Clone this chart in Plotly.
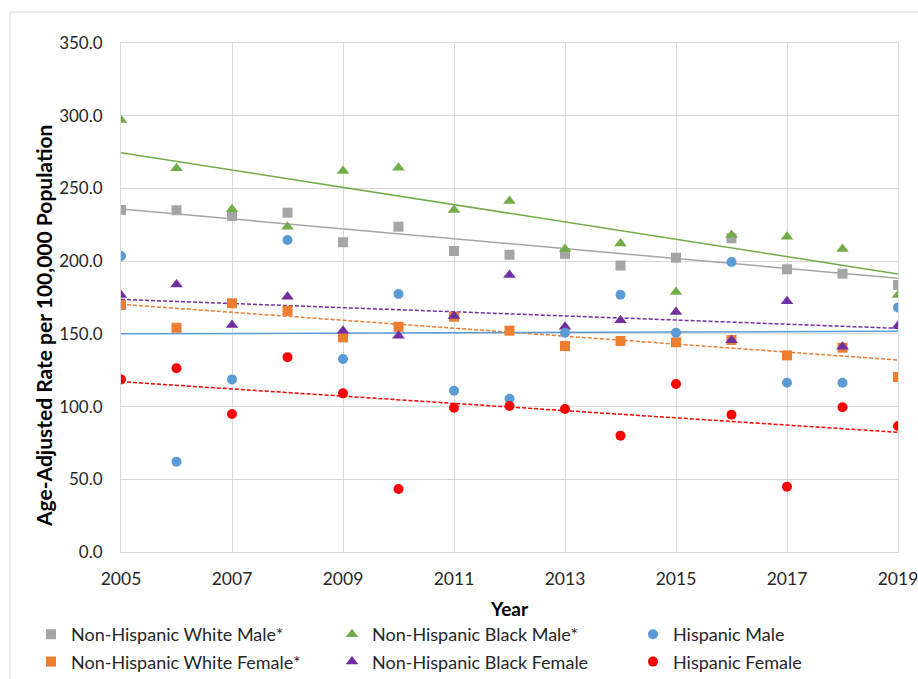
import plotly.graph_objects as go

years = list(range(2005, 2020))

series_names = [
    "Non-Hispanic White Male*",
    "Non-Hispanic White Female*",
    "Non-Hispanic Black Male*",
    "Non-Hispanic Black Female",
    "Hispanic Male",
    "Hispanic Female",
]

nhw_male = [235.2, 235.0, 231.0, 233.3, 213.0, 223.7, 207.0, 204.4, 205.0, 197.0, 202.4, 215.7, 194.4, 191.4, 183.6]
nhw_female = [169.8, 154.2, 171.0, 165.9, 147.6, 154.9, 161.8, 152.2, 141.6, 145.1, 144.2, 145.8, 135.2, 140.5, 120.3]
nhb_male = [297.0, 263.8, 235.6, 223.7, 262.0, 264.3, 235.2, 241.4, 208.3, 212.2, 178.8, 218.0, 216.8, 208.3, 176.7]
nhb_female = [176.7, 184.0, 156.1, 175.5, 152.2, 148.7, 162.3, 190.5, 154.9, 159.3, 165.0, 145.6, 172.4, 141.2, 155.6]
hisp_male = [203.5, 62.1, 118.7, 214.5, 132.7, 177.4, 110.9, 105.4, 150.8, 176.9, 150.8, 199.4, 116.4, 116.4, 168.2]
hisp_female = [118.7, 126.3, 94.9, 133.9, 109.1, 43.3, 99.2, 100.4, 98.3, 80.0, 115.5, 94.4, 44.9, 99.5, 86.6]

# linear trend line end values (2005, 2019)
trend_years = [2005, 2019]
trend_nhw_male = [235.8, 188.2]
trend_nhw_female = [170.3, 132.0]
trend_nhb_male = [274.6, 191.2]
trend_nhb_female = [173.7, 153.8]
trend_hisp_male = [150.0, 151.8]
trend_hisp_female = [117.1, 82.3]

y_tick_vals = [0, 50, 100, 150, 200, 250, 300, 350]
x_tick_vals = [2005, 2007, 2009, 2011, 2013, 2015, 2017, 2019]

x_title = "Year"
y_title = "Age-Adjusted Rate per 100,000 Population"

values = [nhw_male, nhw_female, nhb_male, nhb_female, hisp_male, hisp_female]
trends = [trend_nhw_male, trend_nhw_female, trend_nhb_male, trend_nhb_female, trend_hisp_male, trend_hisp_female]
colors = ["#A5A5A5", "#ED7D31", "#70AD47", "#7030A0", "#5B9BD5", "#FF0000"]
symbols = ["square", "square", "triangle-up", "triangle-up", "circle", "circle"]
sizes = [10, 10, 11, 11, 10, 10]
dashes = ["solid", "4px,2px", "solid", "4px,2px", "solid", "4px,2px"]
legends = ["legend", "legend", "legend2", "legend2", "legend3", "legend3"]

fig = go.Figure()

for name, tr, col, dash in zip(series_names, trends, colors, dashes):
    fig.add_trace(go.Scatter(
        x=trend_years, y=tr, mode="lines",
        line=dict(color=col, width=1.5, dash=dash),
        showlegend=False, hoverinfo="skip",
    ))

for i, (name, vals, col, sym, sz, lg) in enumerate(zip(series_names, values, colors, symbols, sizes, legends)):
    fig.add_trace(go.Scatter(
        x=years, y=vals, mode="markers", name=name,
        marker=dict(color=col, symbol=sym, size=sz, line=dict(width=0)),
        legend=lg, legendgroup=f"g{i}",
    ))

font_main = "Lato, 'Open Sans', sans-serif"

W, H = 918, 679
L, R, T, B = 121, 20, 43, 127
PW = W - L - R
PH = H - T - B


def px_x(px):
    return (px - L) / PW


def px_y(py):
    return (H - B - py) / PH


def cx(px):
    return px / W


def cy(py):
    return 1 - py / H


legend_common = dict(
    orientation="v", yanchor="top", xanchor="left",
    xref="container", yref="container",
    font=dict(family=font_main, size=18, color="#262626"),
    bgcolor="rgba(0,0,0,0)", tracegroupgap=1, borderwidth=0,
)

fig.update_layout(
    width=W, height=H,
    margin=dict(l=L, r=R, t=T, b=B, autoexpand=False),
    paper_bgcolor="white", plot_bgcolor="white",
    font=dict(family=font_main, color="#262626"),
    xaxis=dict(
        range=[2005, 2019], tickvals=x_tick_vals,
        showgrid=True, gridcolor="#d9d9d9", gridwidth=1,
        showline=True, linecolor="#d9d9d9", linewidth=1, mirror=True,
        zeroline=False, ticks="", ticklabelstandoff=11, ticklabeloverflow="allow",
        tickfont=dict(family=font_main, size=17.5, color="#262626"),
    ),
    yaxis=dict(
        range=[0, 350], tickvals=y_tick_vals, tickformat=".1f",
        showgrid=True, gridcolor="#d9d9d9", gridwidth=1,
        showline=True, linecolor="#d9d9d9", linewidth=1, mirror=True,
        zeroline=False, ticks="", ticklabelstandoff=14,
        tickfont=dict(family=font_main, size=17, color="#262626"),
    ),
    legend=dict(x=cx(31), y=cy(616), **legend_common),
    legend2=dict(x=cx(332), y=cy(616), **legend_common),
    legend3=dict(x=cx(633), y=cy(616), **legend_common),
    annotations=[
        dict(text=f"<b>{x_title}</b>", xref="paper", yref="paper",
             x=px_x(509), y=px_y(608), xanchor="center", yanchor="middle",
             showarrow=False, font=dict(family=font_main, size=19, color="#000000")),
        dict(text=f"<b>{y_title}</b>", xref="paper", yref="paper",
             x=px_x(43), y=px_y(326), xanchor="center", yanchor="middle", textangle=-90,
             showarrow=False, font=dict(family=font_main, size=21, color="#000000")),
    ],
    shapes=[dict(
        type="rect", xref="paper", yref="paper", layer="below",
        x0=px_x(10), x1=px_x(930),
        y0=px_y(700), y1=px_y(12),
        line=dict(color="#d9d9d9", width=1), fillcolor="rgba(0,0,0,0)",
    )],
)

fig.write_html(
    "out.html",
    config={"displayModeBar": False},
    post_script="document.body.style.margin='0';document.body.style.overflow='hidden';",
)
